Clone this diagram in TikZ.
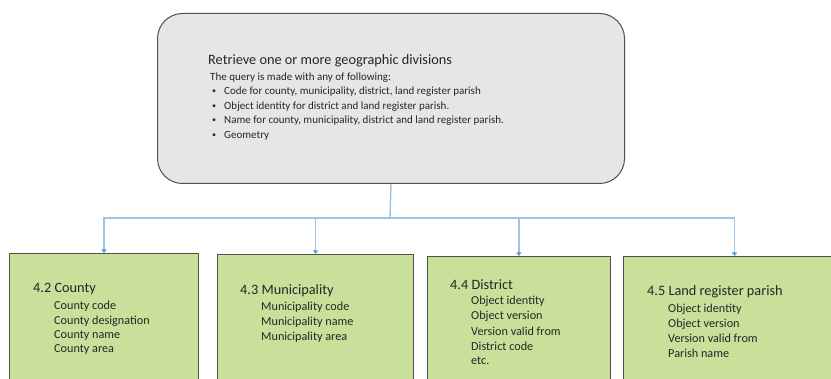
\documentclass[tikz,border=0pt]{standalone}
\usepackage{fontspec}
\setmainfont{Carlito}
\usetikzlibrary{arrows.meta}
\definecolor{boxgray}{HTML}{E6E6E6}
\definecolor{boxgreen}{HTML}{C9E09B}
\definecolor{edge}{HTML}{505050}
\definecolor{linkblue}{HTML}{9DC3E6}
\definecolor{tipblue}{HTML}{5B9BD5}
\tikzset{
  topbox/.style={draw=edge, fill=boxgray, line width=1pt, rounded corners=25pt, anchor=north west, inner sep=0pt},
  gbox/.style={draw=edge, fill=boxgreen, line width=1pt, anchor=north west, inner sep=0pt, minimum height=140pt},
  conn/.style={draw=linkblue, line width=1.4pt},
  arr/.style={conn, -{Triangle[width=5pt,length=3.5pt,fill=tipblue,color=tipblue]}},
  ttl/.style={anchor=west, inner sep=0pt, font=\fontsize{14.3}{16}\selectfont, text=black!85},
  itm/.style={anchor=west, inner sep=0pt, font=\fontsize{12.2}{14}\selectfont, text=black!85},
  qtx/.style={anchor=west, inner sep=0pt, font=\fontsize{11}{13}\selectfont, text=black!85},
  bul/.style={anchor=center, inner sep=0pt, font=\fontsize{8}{10}\selectfont, text=black!85}
}
\begin{document}
\begin{tikzpicture}[x=1pt,y=-1pt]
\useasboundingbox (0,0) rectangle (831,379);
\clip (0,0) rectangle (831,379);
% top box
\node[topbox, minimum width=467pt, minimum height=170pt] (top) at (157,13) {};
\node[ttl] (t0) at (208,61) {Retrieve one or more geographic divisions};
\node[qtx] (t1) at (210,77.5) {The query is made with any of following:};
\node[bul] (b1) at (214,92) {•};
\node[qtx] (q1) at (224,92) {Code for county, municipality, district, land register parish};
\node[bul] (b2) at (214,106.5) {•};
\node[qtx] (q2) at (224,106.5) {Object identity for district and land register parish.};
\node[bul] (b3) at (214,121) {•};
\node[qtx] (q3) at (224,121) {Name for county, municipality, district and land register parish.};
\node[bul] (b4) at (214,136) {•};
\node[qtx] (q4) at (224,136) {Geometry};
% green boxes
\node[gbox, minimum width=189pt] (county) at (9,253) {};
\node[gbox, minimum width=196pt] (muni) at (217,254) {};
\node[gbox, minimum width=183pt] (dist) at (427,256) {};
\node[gbox, minimum width=222pt] (parish) at (623,256) {};
% connectors
\coordinate (hub) at (390,218);
\draw[conn] (top.south) -- (hub);
\draw[arr] (hub) -| (county.north);
\draw[arr] (hub) -| (muni.north);
\draw[arr] (hub) -| (dist.north);
\draw[arr] (hub) -| (parish.north);
% county
\node[ttl] (c0) at (33,289) {4.2 County};
\node[itm] (c1) at (54,306) {County code};
\node[itm] (c2) at (54,321) {County designation};
\node[itm] (c3) at (54,336) {County name};
\node[itm] (c4) at (54,350) {County area};
% municipality
\node[ttl] (m0) at (240,291) {4.3 Municipality};
\node[itm] (m1) at (261,307) {Municipality code};
\node[itm] (m2) at (261,322.5) {Municipality name};
\node[itm] (m3) at (261,337) {Municipality area};
% district
\node[ttl] (d0) at (450,285) {4.4 District};
\node[itm] (d1) at (471,301) {Object identity};
\node[itm] (d2) at (471,316) {Object version};
\node[itm] (d3) at (471,331) {Version valid from};
\node[itm] (d4) at (471,346) {District code};
\node[itm] (d5) at (471,361) {etc.};
% parish
\node[ttl] (p0) at (647,292) {4.5 Land register parish};
\node[itm] (p1) at (668,309) {Object identity};
\node[itm] (p2) at (668,324) {Object version};
\node[itm] (p3) at (668,338.5) {Version valid from};
\node[itm] (p4) at (668,353) {Parish name};
\end{tikzpicture}
\end{document}
